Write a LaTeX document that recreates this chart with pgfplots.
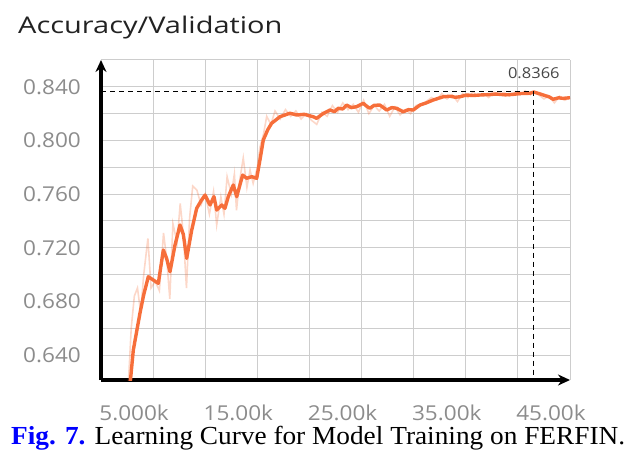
\documentclass[border=0pt]{standalone}
\usepackage{pgfplots}
\pgfplotsset{compat=1.18}
\usetikzlibrary{arrows.meta}
\usepackage{fontspec}
\setmainfont{Liberation Serif}[FakeStretch=1.05]
\newfontfamily\titlefont{Open Sans}[FakeStretch=1.26]
\newfontfamily\tickfont{Open Sans}[FakeStretch=1.1]
\definecolor{tborange}{RGB}{246,110,58}
\definecolor{gridgray}{RGB}{205,205,205}
\definecolor{tickgray}{RGB}{140,140,140}
\definecolor{titlecol}{RGB}{34,34,34}
\begin{document}
\begin{tikzpicture}[x=1pt,y=1pt]
\path[use as bounding box] (0,0) rectangle (634,464);
\node[anchor=base west,inner sep=0pt,text=titlecol] at (18,430.7)
  {\titlefont\fontsize{23}{23}\selectfont Accuracy/Validation};
\begin{axis}[
  at={(101pt,84pt)}, anchor=south west,
  scale only axis, width=469pt, height=320pt,
  xmin=0, xmax=45, ymin=0.6214, ymax=0.86,
  axis x line=bottom, axis y line=left,
  axis line style={line width=3.6pt, -{Stealth[length=12pt,width=11pt]}},
  x axis line style={line width=3.6pt},
  y axis line style={line width=3.6pt},
  xtick={5,10,15,20,25,30,35,40,45},
  xticklabels={5.000k,,15.00k,,25.00k,,35.00k,,45.00k},
  ytick={0.64,0.66,0.68,0.70,0.72,0.74,0.76,0.78,0.80,0.82,0.84,0.86},
  yticklabels={0.640,,0.680,,0.720,,0.760,,0.800,,0.840,},
  major tick length=0pt,
  grid=major,
  major grid style={gridgray, line width=1pt},
  /pgf/number format/assume math mode=true,
  ticklabel style={font=\tickfont\fontsize{20.5}{20.5}\selectfont, text=tickgray, inner sep=0pt},
  xticklabel style={anchor=north, yshift=-24.5pt, xshift=-19pt},
  yticklabel style={anchor=east, xshift=-20pt},
  clip=true,
]
% raw (unsmoothed) series
\addplot[tborange, opacity=0.28, line width=1.6pt] coordinates {
(2.6,0.615) (2.9,0.660) (3.2,0.684) (3.5,0.690) (3.8,0.672) (4.1,0.700) (4.5,0.727) (4.8,0.690)
(5.2,0.695) (5.6,0.688) (6.0,0.731) (6.3,0.712) (6.6,0.682) (6.9,0.738) (7.3,0.724) (7.6,0.753)
(7.9,0.730) (8.2,0.690) (8.5,0.742) (8.8,0.766) (9.2,0.763) (9.6,0.752) (10.0,0.760) (10.4,0.745)
(10.8,0.762) (11.1,0.737) (11.5,0.758) (11.8,0.745) (12.1,0.773) (12.5,0.760) (12.8,0.775) (13.0,0.748)
(13.3,0.770) (13.65,0.787) (14.0,0.765) (14.3,0.778) (14.6,0.768) (15.0,0.780) (15.25,0.795) (15.6,0.805)
(15.9,0.818) (16.3,0.812) (16.7,0.822) (17.2,0.816) (17.7,0.823) (18.2,0.818) (18.7,0.822) (19.2,0.816)
(19.7,0.820) (20.2,0.815) (20.7,0.812) (21.2,0.821) (21.7,0.818) (22.2,0.826) (22.7,0.821) (23.2,0.828)
(23.7,0.823) (24.2,0.827) (24.7,0.821) (25.2,0.830) (25.7,0.820) (26.2,0.826) (26.7,0.822) (27.2,0.827)
(27.7,0.818) (28.2,0.825) (28.7,0.819) (29.2,0.823) (29.7,0.820) (30.2,0.826) (30.7,0.827) (31.2,0.829)
(31.7,0.832) (32.2,0.830) (32.7,0.835) (33.2,0.831) (33.7,0.834) (34.2,0.829) (34.7,0.835) (35.2,0.832)
(35.7,0.836) (36.2,0.833) (36.7,0.835) (37.2,0.832) (37.7,0.836) (38.2,0.834) (38.7,0.836) (39.2,0.833)
(39.7,0.836) (40.2,0.834) (40.7,0.837) (41.2,0.834) (41.5,0.8366) (42.0,0.834) (42.5,0.831) (43.0,0.833)
(43.5,0.828) (44.0,0.833) (44.5,0.830) (45.0,0.832)
};
% smoothed series
\addplot[tborange, line width=3.4pt, line join=round] coordinates {
(2.75,0.615) (3.10,0.6437) (3.74,0.6713) (4.1,0.685) (4.54,0.6984) (5.0,0.696) (5.50,0.6935)
(5.98,0.7183) (6.3,0.712) (6.62,0.7021) (7.1,0.722) (7.58,0.7370) (7.9,0.730) (8.22,0.7121)
(8.7,0.733) (9.18,0.7494) (9.6,0.755) (9.98,0.7593) (10.46,0.7519) (10.84,0.7581) (11.10,0.7481)
(11.58,0.7519) (11.89,0.7494) (12.21,0.7581) (12.69,0.7668) (13.02,0.7581) (13.59,0.7742)
(13.98,0.7718) (14.46,0.7730) (14.94,0.7718) (15.25,0.7854) (15.57,0.8003) (16.0,0.808)
(16.37,0.8128) (17.17,0.8177) (18.13,0.8203) (18.77,0.8190) (19.5,0.8195) (20.36,0.8177)
(20.69,0.8165) (21.3,0.820) (21.97,0.8227) (22.4,0.8215) (22.76,0.8240) (23.2,0.8235) (23.57,0.8264)
(24.0,0.8245) (24.53,0.8252) (25.16,0.8277) (25.5,0.8255) (25.80,0.8240) (26.2,0.8262) (26.76,0.8264)
(27.1,0.8245) (27.41,0.8227) (27.9,0.8245) (28.36,0.8240) (29.00,0.8214) (29.5,0.823) (29.96,0.8227)
(30.60,0.8264) (31.2,0.828) (31.88,0.8302) (32.84,0.8326) (33.5,0.8330) (34.0,0.8322) (34.44,0.8326)
(35.08,0.8339) (35.7,0.8335) (36.36,0.8339) (37.2,0.8342) (37.96,0.8346) (38.8,0.8340) (39.55,0.8344)
(40.3,0.8350) (41.15,0.8352) (41.53,0.8361) (42.0,0.8350) (42.43,0.8339) (43.0,0.8325) (43.39,0.8307)
(43.9,0.8318) (44.35,0.8314) (45.0,0.8319)
};
% best-value marker lines
\addplot[black, line width=1.3pt, dash pattern=on 5pt off 4pt] coordinates {(0,0.8366) (41.53,0.8366) (41.53,0.6214)};
\node[anchor=base, inner sep=0pt, text=black!72] at (axis cs:41.53,0.8366) [yshift=13pt]
  {\tickfont\fontsize{15}{15}\selectfont 0.8366};
\end{axis}
\node[anchor=base west,inner sep=0pt] at (11,20)
  {\fontsize{26}{26}\selectfont\textcolor{blue}{\bfseries Fig. 7.} Learning Curve for Model Training on FERFIN.};
\end{tikzpicture}
\end{document}
